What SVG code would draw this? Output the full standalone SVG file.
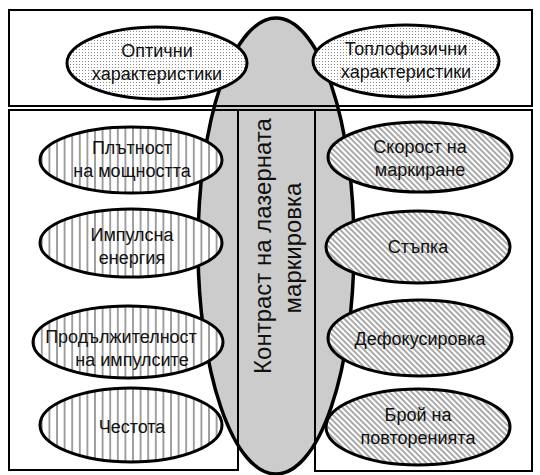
<svg xmlns="http://www.w3.org/2000/svg" width="540" height="475" viewBox="0 0 540 475">
<defs>
<pattern id="dots" width="3" height="3" patternUnits="userSpaceOnUse"><rect width="3" height="3" fill="#fff"/><rect x="1" y="1" width="1" height="1" fill="#8a8a8a"/></pattern>
<pattern id="vlines" width="7.6" height="10" patternUnits="userSpaceOnUse"><rect width="7.6" height="10" fill="#fff"/><line x1="3.8" y1="0" x2="3.8" y2="10" stroke="#444" stroke-width="1"/></pattern>
<pattern id="hatch" width="4" height="4" patternUnits="userSpaceOnUse" patternTransform="rotate(-45)"><rect width="4" height="4" fill="#fff"/><line x1="2" y1="0" x2="2" y2="4" stroke="#555" stroke-width="1"/></pattern>
<style>
.box{fill:none;stroke:#000;stroke-width:2}
.el{stroke:#000;stroke-width:3}
.dot{fill:url(#dots)}
.vl{fill:url(#vlines)}
.ht{fill:url(#hatch)}
.t{font-family:"Liberation Sans",Arial,sans-serif;font-size:18px;fill:#111;text-anchor:middle}
.ct{font-family:"Liberation Sans",Arial,sans-serif;font-size:24px;fill:#111;text-anchor:middle}
</style>
</defs>
<rect width="540" height="475" fill="#fff"/>
<g id="central">
<ellipse cx="276" cy="246" rx="78" ry="228" fill="#cccccc" stroke="#000" stroke-width="3.5"/>
<text class="ct" transform="translate(271,246) rotate(-90)">Контраст на лазерната</text>
<text class="ct" transform="translate(301,248) rotate(-90)">маркировка</text>
</g>
<g id="top-box"><rect class="box" x="9" y="10" width="523" height="96"/></g>
<g id="left-box"><rect class="box" x="9" y="110" width="229" height="360"/></g>
<g id="right-box"><rect class="box" x="315" y="110" width="217" height="361"/></g>
<line x1="238" y1="110" x2="315" y2="110" stroke="#000" stroke-width="2"/>
<g id="optical"><ellipse class="el dot" cx="157" cy="63" rx="90" ry="36"/><text class="t" x="157" y="57">Оптични</text><text class="t" x="157" y="80">характеристики</text></g>
<g id="thermo"><ellipse class="el dot" cx="406" cy="61" rx="93" ry="36"/><text class="t" x="406" y="55">Топлофизични</text><text class="t" x="406" y="78">характеристики</text></g>
<g id="power-density"><ellipse class="el vl" cx="131" cy="160" rx="91" ry="33"/><text class="t" x="132" y="154">Плътност</text><text class="t" x="132" y="177">на мощността</text></g>
<g id="pulse-energy"><ellipse class="el vl" cx="131" cy="243" rx="91" ry="34"/><text class="t" x="132" y="241">Импулсна</text><text class="t" x="132" y="264">енергия</text></g>
<g id="pulse-duration"><ellipse class="el vl" cx="128" cy="342" rx="95" ry="36"/><text class="t" x="121" y="343">Продължителност</text><text class="t" x="132" y="366">на импулсите</text></g>
<g id="frequency"><ellipse class="el vl" cx="131" cy="425" rx="91" ry="37"/><text class="t" x="132" y="433">Честота</text></g>
<g id="speed"><ellipse class="el ht" cx="420" cy="157" rx="92" ry="35"/><text class="t" x="420" y="153">Скорост на</text><text class="t" x="420" y="176">маркиране</text></g>
<g id="step"><ellipse class="el ht" cx="418" cy="247" rx="92" ry="36"/><text class="t" x="418" y="253">Стъпка</text></g>
<g id="defocus"><ellipse class="el ht" cx="420" cy="338" rx="92" ry="38"/><text class="t" x="420" y="345">Дефокусировка</text></g>
<g id="repetitions"><ellipse class="el ht" cx="418" cy="427" rx="92" ry="38"/><text class="t" x="418" y="421">Брой на</text><text class="t" x="418" y="444">повторенията</text></g>
</svg>
